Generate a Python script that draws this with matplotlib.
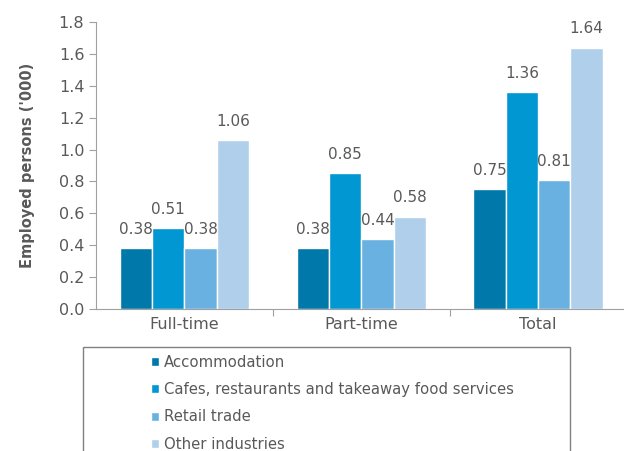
import numpy as np
import matplotlib.pyplot as plt
from matplotlib.patches import Rectangle

# data
groups = ['Full-time', 'Part-time', 'Total']
series = ['Accommodation', 'Cafes, restaurants and takeaway food services',
          'Retail trade', 'Other industries']
accommodation = [0.38, 0.38, 0.75]
cafes = [0.51, 0.85, 1.36]
retail = [0.38, 0.44, 0.81]
other = [1.06, 0.58, 1.64]
colors = ['#0078a9', '#0097d3', '#69b1e1', '#afcfeb']

grey = '#595959'
plt.rcParams['font.family'] = 'DejaVu Sans'

fig = plt.figure(figsize=(6.24, 4.51), dpi=100)
ax = fig.add_axes([0.154, 0.315, 0.85, 0.636])

x = np.arange(len(groups))
w = 0.183
vals = [accommodation, cafes, retail, other]
for i, (v, c, lab) in enumerate(zip(vals, colors, series)):
    pos = x + (i - 1.5) * w
    ax.bar(pos, v, w, color=c, edgecolor='white', linewidth=1, label=lab)
    for p, val in zip(pos, v):
        ax.text(p, val + 0.07, '%.2f' % val, ha='center', va='bottom',
                fontsize=11, color=grey)

ax.set_xlim(-0.5, 2.5)
ax.set_ylim(0, 1.8)
ax.set_yticks(np.arange(0, 1.81, 0.2))
ax.set_yticklabels(['%.1f' % t for t in np.arange(0, 1.81, 0.2)])
ax.set_xticks([0.5, 1.5])
ax.set_xticklabels([])
ax.set_xticks(x, minor=True)
ax.set_xticklabels(groups, minor=True)
ax.tick_params(axis='x', which='minor', length=0, pad=6, labelsize=11.5, labelcolor=grey)
ax.tick_params(axis='x', which='major', length=5, color='#a0a0a0')
ax.tick_params(axis='y', length=5, color='#a0a0a0', labelsize=11.5, labelcolor=grey)
for s in ['top', 'right']:
    ax.spines[s].set_visible(False)
for s in ['left', 'bottom']:
    ax.spines[s].set_color('#a0a0a0')
ax.set_ylabel("Employed persons ('000)", fontsize=10.5, fontweight='bold', color=grey, labelpad=17)

# legend box, runs off the bottom of the picture
fig.patches.append(Rectangle((83 / 624, -0.05), (570 - 83) / 624, 1 - 347 / 451 + 0.05,
                             transform=fig.transFigure, fill=False, edgecolor='#808080',
                             linewidth=1))
fig.legend(loc='upper left', bbox_to_anchor=(145 / 624, 1 - 349 / 451), frameon=False,
           fontsize=10.7, labelcolor=grey, handlelength=0.55, handleheight=0.55,
           handletextpad=0.3, labelspacing=0.82, borderaxespad=0)

fig.savefig('out.png', dpi=100)
